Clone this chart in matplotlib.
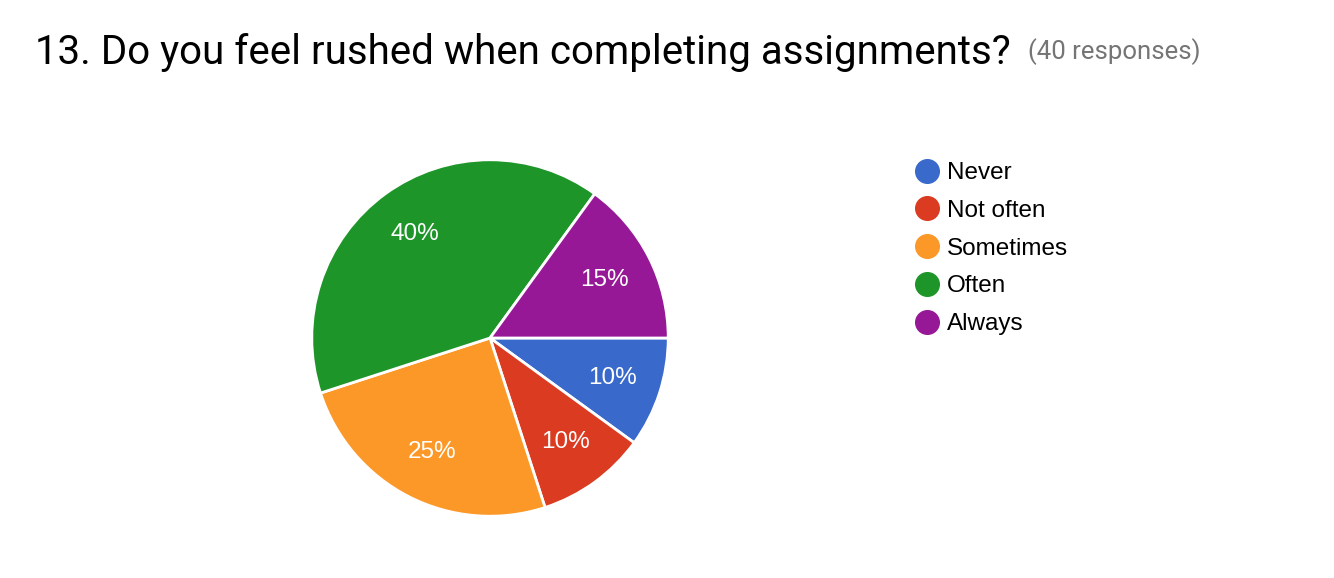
import matplotlib
matplotlib.use("Agg")
import matplotlib.pyplot as plt
from matplotlib.lines import Line2D

# Data
categories = ["Never", "Not often", "Sometimes", "Often", "Always"]
shares = [10, 10, 25, 40, 15]
colors = ["#3869cb", "#da3b21", "#fc9827", "#1e9529", "#961896"]
title = "13. Do you feel rushed when completing assignments?"
subtitle = "(40 responses)"

W, H = 1334, 578
fig = plt.figure(figsize=(W / 100, H / 100), dpi=100)

# Pie axes: center (490, 338) px, radius 180 px
cx, cy, r = 490, 338, 180
ax = fig.add_axes([(cx - r) / W, (H - cy - r) / H, 2 * r / W, 2 * r / H])
wedges, texts, autotexts = ax.pie(
    shares, colors=colors, startangle=0, counterclock=False,
    autopct="%d%%", pctdistance=0.72, radius=1,
    wedgeprops=dict(edgecolor="white", linewidth=2),
    textprops=dict(color="white", fontsize=17.5, family="Liberation Sans"))
ax.set_xlim(-1.01, 1.01)
ax.set_ylim(-1.01, 1.01)
ax.set_aspect("equal")
ax.axis("off")

# Title
fig.text(35 / W, 1 - 52 / H, title, fontsize=29, family="Roboto",
         color="#000000", va="center", ha="left")
fig.text(1028 / W, 1 - 52 / H, subtitle, fontsize=18.5, family="Roboto",
         color="#757575", va="center", ha="left")

# Legend
handles = [Line2D([], [], marker="o", linestyle="none", markersize=17,
                  markerfacecolor=c, markeredgecolor=c) for c in colors]
fig.legend(handles, categories, loc="upper left",
           bbox_to_anchor=(912 / W, 1 - 162 / H), frameon=False,
           prop=dict(family="Liberation Sans", size=17.5),
           labelspacing=0.65, handletextpad=0.25, handlelength=1.2,
           borderpad=0, borderaxespad=0)

fig.savefig("out.png", dpi=100, facecolor="white")
